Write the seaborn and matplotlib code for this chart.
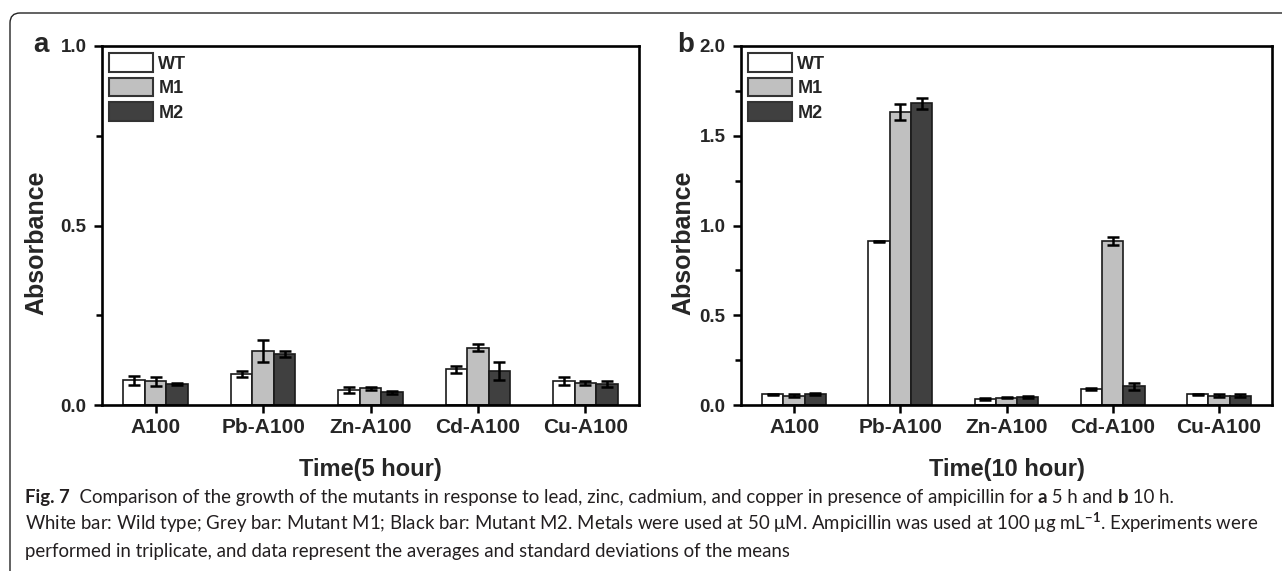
import numpy as np
import pandas as pd
import seaborn as sns
import matplotlib.pyplot as plt
import matplotlib.patches as mpatches
from matplotlib.ticker import MultipleLocator, FormatStrFormatter

categories = ['A100', 'Pb-A100', 'Zn-A100', 'Cd-A100', 'Cu-A100']
strains = ['WT', 'M1', 'M2']

# panel a, 5 hour
a_wt = [0.069, 0.087, 0.042, 0.099, 0.066]
a_m1 = [0.066, 0.151, 0.046, 0.160, 0.061]
a_m2 = [0.059, 0.142, 0.035, 0.095, 0.059]
a_wt_sd = [0.013, 0.008, 0.008, 0.010, 0.011]
a_m1_sd = [0.013, 0.030, 0.003, 0.010, 0.006]
a_m2_sd = [0.003, 0.009, 0.004, 0.025, 0.009]

# panel b, 10 hour
b_wt = [0.059, 0.912, 0.033, 0.087, 0.059]
b_m1 = [0.052, 1.632, 0.041, 0.912, 0.052]
b_m2 = [0.061, 1.680, 0.044, 0.104, 0.052]
b_wt_sd = [0.004, 0.004, 0.004, 0.006, 0.004]
b_m1_sd = [0.010, 0.044, 0.004, 0.022, 0.010]
b_m2_sd = [0.006, 0.032, 0.006, 0.020, 0.008]

colors = {'WT': 'white', 'M1': '#c0c0c0', 'M2': '#404040'}

sns.set_style('ticks')
plt.rcParams['font.family'] = ['Liberation Sans', 'DejaVu Sans']
plt.rcParams['font.weight'] = 'bold'
plt.rcParams['axes.labelweight'] = 'bold'
plt.rcParams['mathtext.fontset'] = 'custom'
plt.rcParams['mathtext.rm'] = 'Lato'
plt.rcParams['mathtext.it'] = 'Lato:italic'

W, H = 1282, 571
fig = plt.figure(figsize=(W / 100, H / 100), dpi=100)


def px_axes(left, right, top, bottom):
    return fig.add_axes([left / W, 1 - bottom / H, (right - left) / W, (bottom - top) / H])


def make_df(wt, m1, m2):
    rows = []
    for s, vals in zip(strains, [wt, m1, m2]):
        for c, v in zip(categories, vals):
            rows.append({'cat': c, 'strain': s, 'val': v})
    return pd.DataFrame(rows)


def panel(ax, means, sds, ymax, xlabel, ylab_x):
    df = make_df(*means)
    sns.barplot(data=df, x='cat', y='val', hue='strain', order=categories,
                hue_order=strains, palette=colors, saturation=1, width=0.6,
                errorbar=None, edgecolor='#1a1a1a', linewidth=1.2, legend=False, ax=ax)
    for cont, m, sd in zip(ax.containers, means, sds):
        xs = [p.get_x() + p.get_width() / 2 for p in cont]
        ax.errorbar(xs, m, yerr=sd, fmt='none', ecolor='black',
                    elinewidth=1.8, capsize=4, capthick=1.8, zorder=5)
    ax.set_xlim(-0.5, 4.5)
    ax.set_ylim(0, ymax)
    ax.yaxis.set_major_locator(MultipleLocator(0.5))
    ax.yaxis.set_minor_locator(MultipleLocator(0.25))
    ax.yaxis.set_major_formatter(FormatStrFormatter('%.1f'))
    for sp in ax.spines.values():
        sp.set_visible(True)
        sp.set_linewidth(1.9)
        sp.set_color('black')
    ax.tick_params(axis='both', which='both', direction='out', width=1.8, color='black')
    ax.tick_params(axis='both', which='major', length=6)
    ax.tick_params(axis='y', which='minor', length=4)
    ax.tick_params(axis='x', labelsize=15, pad=3.6)
    ax.tick_params(axis='y', labelsize=13.5, pad=5)
    ax.set_xlabel(xlabel, fontsize=17, va='top')
    ax.xaxis.set_label_coords(0.5, -0.148)
    ax.set_ylabel('Absorbance', fontsize=18)
    ax.yaxis.set_label_coords(ylab_x, 0.451)
    handles = [mpatches.Patch(facecolor=colors[s], edgecolor='#333333', linewidth=1.5)
               for s in strains]
    ax.legend(handles, strains, loc='upper left', bbox_to_anchor=(0.013, 0.98),
              frameon=False, borderpad=0, borderaxespad=0,
              prop={'weight': 'bold', 'size': 13}, handlelength=2.44,
              handleheight=1.22, labelspacing=0.28, handletextpad=0.3)


ax_a = px_axes(102, 639, 46, 405)
panel(ax_a, [a_wt, a_m1, a_m2], [a_wt_sd, a_m1_sd, a_m2_sd], 1.0, 'Time(5 hour)', -0.099)

ax_b = px_axes(741, 1272, 46, 405)
panel(ax_b, [b_wt, b_m1, b_m2], [b_wt_sd, b_m1_sd, b_m2_sd], 2.0, 'Time(10 hour)', -0.086)

fig.text(33 / W, 1 - 52 / H, 'a', fontsize=20, fontweight='bold', va='baseline')
fig.text(677 / W, 1 - 52 / H, 'b', fontsize=20, fontweight='bold', va='baseline')

# frame round the figure
frame = mpatches.FancyBboxPatch((0.10, -0.5), 14.0, 5.71 - 0.13 + 0.5,
                                boxstyle='round,pad=0,rounding_size=0.1',
                                transform=fig.dpi_scale_trans, facecolor='none',
                                edgecolor='#222222', linewidth=1.0)
fig.add_artist(frame)

# caption
cap_color = '#231f20'
cap_size = 13.4
renderer = fig.canvas.get_renderer()
lines = [
    [('Fig. 7', 'bold'), ('  Comparison of the growth of the mutants in response to lead, zinc, cadmium, '
                          'and copper in presence of ampicillin for ', 'normal'),
     ('a', 'bold'), (' 5 h and ', 'normal'), ('b', 'bold'), (' 10 h.', 'normal')],
    [('White bar: Wild type; Grey bar: Mutant M1; Black bar: Mutant M2. Metals were used at 50 \u03bcM. '
      'Ampicillin was used at 100 \u03bcg mL$^{\u22121}$. Experiments were', 'normal')],
    [('performed in triplicate, and data represent the averages and standard deviations of the means',
      'normal')],
]
baselines = [503, 530, 557]
for segs, yb in zip(lines, baselines):
    x = 25
    for txt, wt in segs:
        t = fig.text(x / W, 1 - yb / H, txt, fontsize=cap_size, fontweight=wt,
                     family=['Lato', 'DejaVu Sans'], color=cap_color, va='baseline')
        x += t.get_window_extent(renderer).width

fig.savefig('out.png', dpi=100)
